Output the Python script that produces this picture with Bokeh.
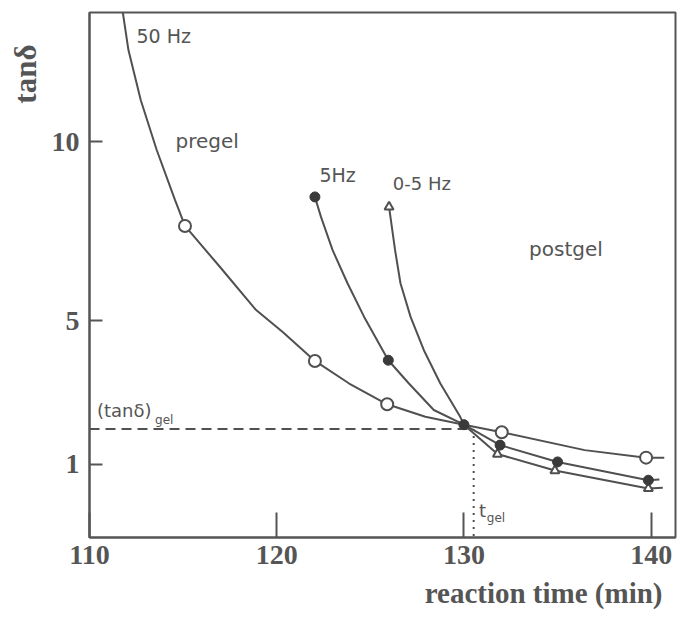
import math
from bokeh.plotting import figure
from bokeh.models import FixedTicker, Label, Range1d, Title
from bokeh.embed import file_html
from bokeh.resources import INLINE

# ---- data ----
x_ticks = [110, 120, 130, 140]
y_ticks = [1, 5, 10]

# 50 Hz curve trace and open-circle markers
hz50_curve_x = [111.78, 112.08, 112.74, 113.59, 114.57, 115.10, 116.96, 118.90, 120.32,
                122.04, 123.87, 125.90, 127.94, 130.00, 132.02, 136.45, 139.73, 140.70]
hz50_curve_y = [13.61, 12.56, 11.16, 9.77, 8.37, 7.65, 6.51, 5.30, 4.69,
                3.88, 3.25, 2.67, 2.32, 2.10, 1.89, 1.39, 1.18, 1.18]
hz50_mark_x = [115.10, 122.04, 125.90, 132.02, 139.73]
hz50_mark_y = [7.65, 3.88, 2.67, 1.89, 1.18]

# 5 Hz curve trace and filled-circle markers
hz5_curve_x = [122.04, 122.36, 122.98, 123.78, 124.67, 125.96, 127.06, 128.39, 130.00,
               131.93, 135.00, 139.85, 140.44]
hz5_curve_y = [8.46, 7.91, 6.98, 6.05, 5.11, 3.90, 3.25, 2.51, 2.10,
               1.53, 1.06, 0.55, 0.57]
hz5_mark_x = [122.04, 125.96, 130.00, 131.93, 135.00, 139.85]
hz5_mark_y = [8.46, 3.90, 2.10, 1.53, 1.06, 0.55]

# 0.5 Hz curve trace and open-triangle markers
hz05_curve_x = [126.00, 126.32, 126.61, 127.15, 127.86, 128.74, 129.80, 130.00,
                131.79, 134.86, 139.85, 140.62]
hz05_curve_y = [8.18, 6.98, 6.05, 5.11, 4.18, 3.25, 2.32, 2.10,
                1.28, 0.82, 0.32, 0.34]
hz05_mark_x = [126.00, 131.79, 134.86, 139.85]
hz05_mark_y = [8.18, 1.28, 0.82, 0.32]

tan_gel = 1.98
t_gel = 130.52

INK = "#555555"
LINE = "#505050"

p = figure(width=677, height=620, output_backend="svg", toolbar_location=None,
           x_range=Range1d(110, 141.3), y_range=Range1d(-1.05, 13.61),
           min_border_left=88, min_border_right=2, min_border_top=12, min_border_bottom=83)
p.background_fill_color = "white"
p.border_fill_color = "white"
p.xgrid.visible = False
p.ygrid.visible = False
p.outline_line_color = INK
p.outline_line_width = 2

for ax in (p.xaxis[0], p.yaxis[0]):
    ax.axis_line_color = INK
    ax.axis_line_width = 2
    ax.major_tick_line_color = INK
    ax.major_tick_line_width = 2
    ax.major_tick_out = 0
    ax.minor_tick_line_color = None
    ax.major_label_text_font = "Liberation Serif"
    ax.major_label_text_font_style = "bold"
    ax.major_label_text_font_size = "28px"
    ax.major_label_text_color = INK

p.xaxis.ticker = FixedTicker(ticks=x_ticks)
p.xaxis.major_tick_in = 25
p.xaxis.major_label_standoff = 8
p.yaxis.ticker = FixedTicker(ticks=y_ticks)
p.yaxis.major_tick_in = 13
p.yaxis.major_label_standoff = 10

# reference lines
p.line([110, t_gel], [tan_gel, tan_gel], line_color=LINE, line_width=2, line_dash="10 6")
p.line([t_gel, t_gel], [tan_gel, -1.05], line_color=LINE, line_width=2, line_dash="2 5")

# curves
for cx, cy in ((hz50_curve_x, hz50_curve_y), (hz5_curve_x, hz5_curve_y), (hz05_curve_x, hz05_curve_y)):
    p.line(cx, cy, line_color=LINE, line_width=2)

p.scatter(hz05_mark_x, hz05_mark_y, marker="triangle", size=9, fill_color="white",
          line_color=LINE, line_width=2)
p.scatter(hz50_mark_x, hz50_mark_y, marker="circle", size=12, fill_color="white",
          line_color=LINE, line_width=2)
p.scatter(hz5_mark_x, hz5_mark_y, marker="circle", size=10, fill_color="#3a3a3a",
          line_color="#3a3a3a", line_width=1)

def lab(x, y, text, size, font="DejaVu Sans", style="normal", align="left", angle=0):
    p.add_layout(Label(x=x, y=y, text=text, text_font=font, text_font_size=size,
                       text_font_style=style, text_color=INK, text_align=align,
                       text_baseline="middle", angle=angle))

lab(112.51, 12.94, "50 Hz", "19px")
lab(114.59, 10.02, "pregel", "20px")
lab(122.28, 9.06, "5Hz", "19px")
lab(126.20, 8.84, "0-5 Hz", "18px")
lab(133.48, 7.00, "postgel", "20px")
lab(110.40, 2.50, "(tanδ)", "18px")
lab(113.50, 2.22, "gel", "12px")
lab(130.80, -0.30, "t", "18px")
lab(131.22, -0.50, "gel", "12px")

# axis titles placed in the border areas
xt = Title(text="reaction time (min)", align="right", offset=13, standoff=17,
           text_font="Liberation Serif", text_font_style="bold", text_font_size="29px",
           text_color=INK)
p.add_layout(xt, "below")
yt = Title(text="tanδ", align="right", offset=32, standoff=11,
           text_font="Liberation Serif", text_font_style="bold", text_font_size="31px",
           text_color=INK)
p.add_layout(yt, "left")

open("out.html", "w").write(file_html(p, INLINE))
